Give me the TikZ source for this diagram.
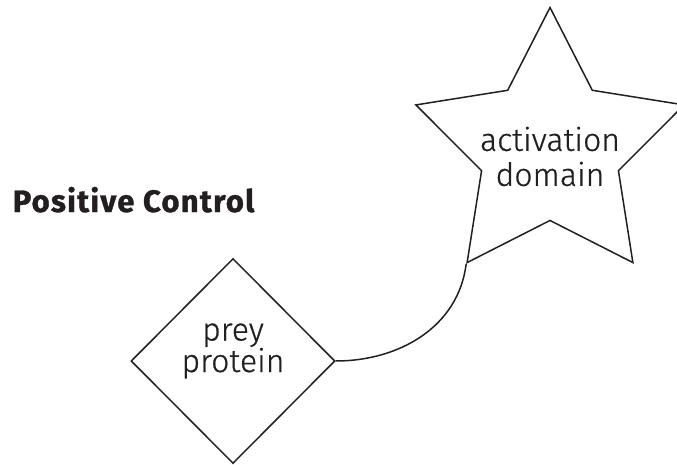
\documentclass[tikz,border=0pt]{standalone}
\usepackage{fontspec}
\setmainfont{Fira Sans Light}[FakeBold=0.6]
\newfontfamily\heavyfont{Fira Sans}[BoldFeatures={FakeBold=1.2, LetterSpace=4}]
\usetikzlibrary{shapes.geometric}
\definecolor{ink}{RGB}{35,31,32}

\begin{document}
\begin{tikzpicture}[x=1pt, y=-1pt, line width=1.5pt, ink,
  shapebox/.style={draw, inner sep=0pt},
  labeltext/.style={align=center, font=\fontsize{32}{35}\selectfont}]
  \useasboundingbox (0,0) rectangle (677,465);
  \node[anchor=base west, inner sep=0pt, font=\heavyfont\bfseries\fontsize{31}{31}\selectfont] (T) at (12,212) {Positive Control};
  \node[shapebox, star, star points=5, star point ratio=1.96, minimum size=282pt,
        label={[labeltext, yshift=-8pt]center:activation\\domain}] (AD) at (550,148.5) {};
  \node[shapebox, diamond, minimum width=204pt, minimum height=205pt,
        label={[labeltext, font=\fontsize{32}{31.5}\selectfont, yshift=10pt]center:prey\\protein}] (PP) at (233,361) {};

  \draw[-] (PP.east) to[out=0, in=-97] (AD.outer point 3);
\end{tikzpicture}
\end{document}
